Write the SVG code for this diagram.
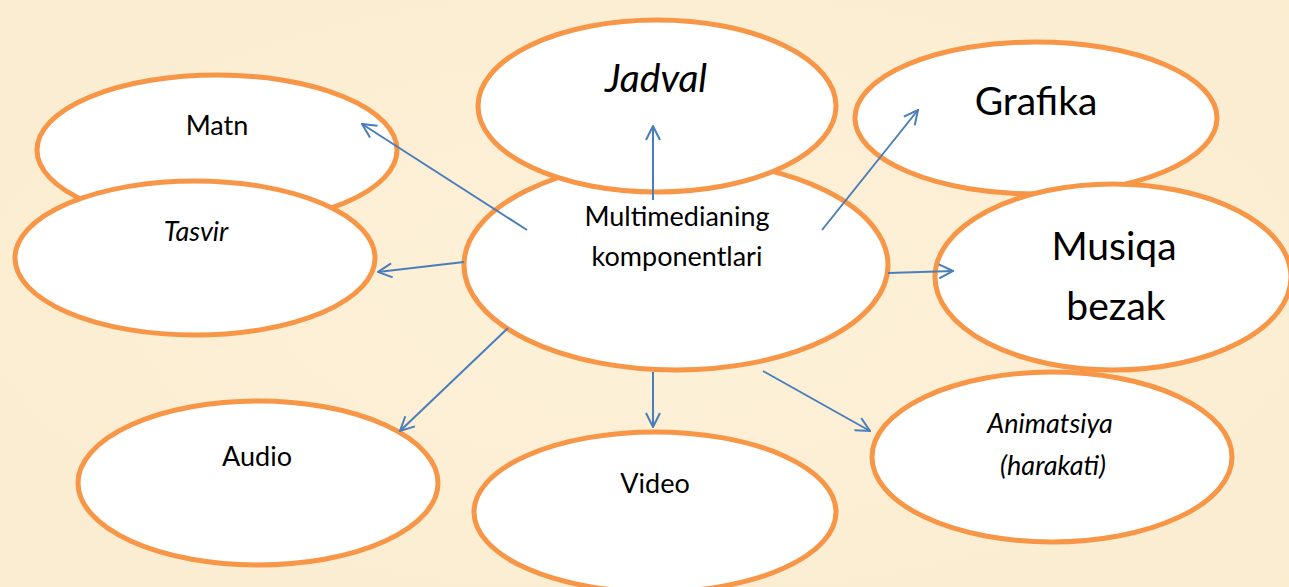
<svg xmlns="http://www.w3.org/2000/svg" width="1289" height="587" viewBox="0 0 1289 587">
<defs>
<radialGradient id="bg" cx="50%" cy="50%" r="75%">
<stop offset="0" stop-color="#FDF1D9"/>
<stop offset="1" stop-color="#FAECCF"/>
</radialGradient>
<marker id="arr" viewBox="0 0 16 16" refX="15" refY="8" markerWidth="16" markerHeight="16" markerUnits="userSpaceOnUse" orient="auto">
<path d="M1,1 L15,8 L1,15" fill="none" stroke="#4A7EBB" stroke-width="2"/>
</marker>
</defs>
<style>
.n{fill:#FFFFFF;stroke:#F79646;stroke-width:5}
.t{font-family:Lato,"Open Sans","Liberation Sans",sans-serif;fill:#000;text-anchor:middle}
.s{font-size:27px}
.b{font-size:39px}
.i{font-style:italic}
.c line{stroke:#4A7EBB;stroke-width:2;marker-end:url(#arr)}
</style>
<rect width="1289" height="587" fill="url(#bg)"/>
<g id="matn"><ellipse class="n" cx="217" cy="150" rx="180" ry="75"/><text class="t s" x="217" y="135">Matn</text></g>
<g id="tasvir"><ellipse class="n" cx="195" cy="258" rx="180" ry="77"/><text class="t s i" x="196" y="241">Tasvir</text></g>
<g id="center"><ellipse class="n" cx="676" cy="265" rx="212" ry="105"/><text class="t s" x="677" y="226">Multimedianing</text><text class="t s" x="677" y="266">komponentlari</text></g>
<g id="jadval"><ellipse class="n" cx="657" cy="106" rx="179" ry="86"/><text class="t b i" x="656" y="92">Jadval</text></g>
<g id="grafika"><ellipse class="n" cx="1036" cy="118" rx="181" ry="76"/><text class="t b" x="1036" y="115">Grafika</text></g>
<g id="musiqa"><ellipse class="n" cx="1113" cy="277" rx="178" ry="93"/><text class="t b" x="1114" y="260">Musiqa</text><text class="t b" x="1116" y="320">bezak</text></g>
<g id="audio"><ellipse class="n" cx="258" cy="483" rx="180" ry="82"/><text class="t s" x="257" y="466">Audio</text></g>
<g id="video"><ellipse class="n" cx="655" cy="512" rx="181" ry="80"/><text class="t s" x="655" y="493">Video</text></g>
<g id="animatsiya"><ellipse class="n" cx="1052" cy="457" rx="180" ry="85"/><text class="t s i" x="1050" y="433">Animatsiya</text><text class="t s i" x="1053" y="475">(harakati)</text></g>
<g id="connectors" class="c">
<line x1="527" y1="230" x2="362" y2="124"/>
<line x1="653" y1="200" x2="653" y2="126"/>
<line x1="822" y1="230" x2="918" y2="110"/>
<line x1="464" y1="262" x2="378" y2="272"/>
<line x1="888" y1="273" x2="953" y2="271"/>
<line x1="508" y1="328" x2="400" y2="431"/>
<line x1="653" y1="372" x2="653" y2="427"/>
<line x1="763" y1="371" x2="870" y2="431"/>
</g>
</svg>
